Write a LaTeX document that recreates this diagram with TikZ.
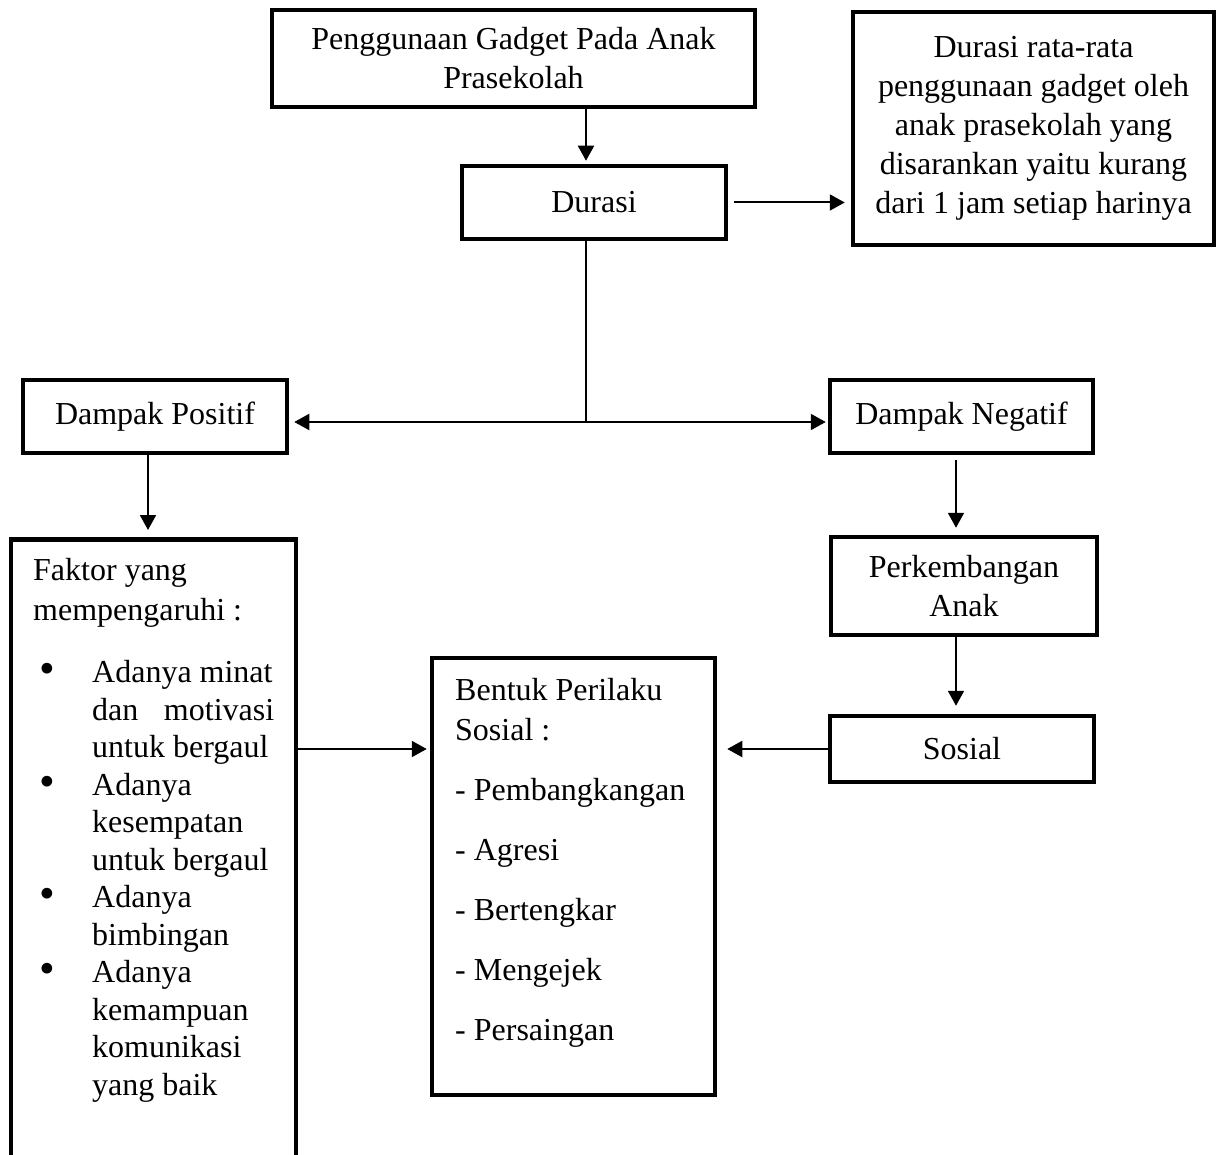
\documentclass[tikz,border=0pt]{standalone}
\usepackage{fontspec}
\setmainfont{Liberation Serif}
\usetikzlibrary{positioning,arrows.meta,calc}

\newcommand{\bul}{\makebox[59pt][l]{\hspace{6pt}\raisebox{-1pt}{\scalebox{1.4}{\textbullet}}}}
\newcommand{\sisip}{\makebox[59pt]{}}

\begin{document}
\begin{tikzpicture}[x=1pt,y=-1pt,font=\fontsize{32}{39}\selectfont,
    kotak/.style={draw,line width=4.5pt,inner sep=0pt,align=center},
    isi/.style={anchor=north west,align=left,inner sep=0pt},
    panah/.style={line width=2pt,-{Triangle[length=15pt,width=16pt]}}]
    \useasboundingbox (0,0) rectangle (1223,1155);
    \clip (0,0) rectangle (1223,1155);
    % kotak bagian atas
    \node[kotak,minimum width=483,minimum height=97] (gadget) at (513.5,58.5)
        {Penggunaan Gadget Pada Anak\\Prasekolah};
    \node[kotak,minimum width=264,minimum height=73] (durasi) at (594,202.5) {Durasi};
    \node[kotak,minimum width=361,minimum height=233] (saran) at (1033.5,128.5)
        {Durasi rata-rata\\penggunaan gadget oleh\\anak prasekolah yang\\disarankan yaitu kurang\\dari 1 jam setiap harinya};
    % dampak
    \node[kotak,minimum width=264,minimum height=73] (positif) at (155,416.5) {Dampak Positif};
    \node[kotak,minimum width=263,minimum height=73] (negatif) at (961.5,416.5) {Dampak Negatif};
    \node[kotak,minimum width=266,minimum height=98] (kembang) at (964,586) {Perkembangan\\Anak};
    \node[kotak,minimum width=264,minimum height=66] (sosial) at (962,749) {Sosial};
    % kotak bawah
    \node[kotak,minimum width=285,minimum height=640,anchor=north] (faktor) at (153.5,537) {};
    \node[isi,font=\fontsize{32}{37.5}\selectfont] (faktorisi) at (33,558)
        {Faktor yang\\[2.5pt]mempengaruhi :\\[25pt]
         \bul Adanya minat\\
         \sisip\makebox[182pt][s]{dan motivasi}\\
         \sisip untuk bergaul\\
         \bul Adanya\\
         \sisip kesempatan\\
         \sisip untuk bergaul\\
         \bul Adanya\\
         \sisip bimbingan\\
         \bul Adanya\\
         \sisip kemampuan\\
         \sisip komunikasi\\
         \sisip yang baik};
    \node[kotak,minimum width=283,minimum height=437] (bentuk) at (573.5,876.5) {};
    \node[isi,font=\fontsize{32}{40}\selectfont] (bentukisi) at (455,678)
        {Bentuk Perilaku\\Sosial :\\[20pt]- Pembangkangan\\[20pt]- Agresi\\[20pt]- Bertengkar\\[20pt]- Mengejek\\[20pt]- Persaingan};
    % panah
    \coordinate (cabang) at (586,422);
    \draw[panah,shorten >=3pt] (gadget.south -| cabang) -- (durasi.north -| cabang);
    \draw[panah,shorten <=6pt,shorten >=6pt] (durasi.east) -- (saran.west |- durasi.east);
    \draw[line width=2pt] (durasi.south -| cabang) -- (cabang);
    \draw[panah,shorten >=5pt] (cabang) -- (positif.east |- cabang);
    \draw[panah,shorten >=2pt] (cabang) -- (negatif.west |- cabang);
    \draw[panah,shorten >=7pt] ([xshift=-7pt]positif.south) -- ([xshift=-5.5pt]faktor.north);
    \draw[panah,shorten <=5pt,shorten >=7pt] ([xshift=-5.5pt]negatif.south) -- ([xshift=-8pt]kembang.north);
    \draw[panah,shorten >=8pt] ([xshift=-8pt]kembang.south) -- ([xshift=-6pt]sosial.north);
    \draw[panah,shorten >=10pt] (sosial.west) -- (bentuk.east |- sosial.west);
    \draw[panah,shorten >=3pt] (faktor.east |- sosial.west) -- (bentuk.west |- sosial.west);
\end{tikzpicture}
\end{document}
